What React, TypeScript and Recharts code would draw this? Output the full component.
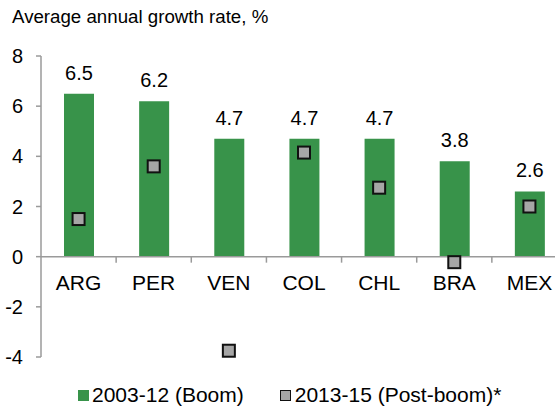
import React from "react";
import {
  ComposedChart,
  Bar,
  Line,
  XAxis,
  YAxis,
  ReferenceLine,
  LabelList,
  Legend,
} from "recharts";

const countries = ["ARG", "PER", "VEN", "COL", "CHL", "BRA", "MEX"];
const boomGrowth = [6.5, 6.2, 4.7, 4.7, 4.7, 3.8, 2.6];
const postBoomGrowth = [1.5, 3.6, -3.75, 4.15, 2.75, -0.22, 2.0];
const yTicks = [-4, -2, 0, 2, 4, 6, 8];

const BOOM_LABEL = "2003-12 (Boom)";
const POST_LABEL = "2013-15 (Post-boom)*";

const GREEN = "#38934a";
const GREY = "#a6a6a6";
const AXIS = "#9a9a9a";

const CHART_W = 567;
const CHART_H = 406;
const Y_AXIS_W = 41;
const PLOT_TOP = 56;
const PLOT_H = 301;
const Y_MIN = -4;
const Y_MAX = 8;
const ZERO_Y = PLOT_TOP + (PLOT_H * Y_MAX) / (Y_MAX - Y_MIN);
const HALF_BAND = (CHART_W - Y_AXIS_W) / countries.length / 2;

const data = countries.map((c, i) => ({
  name: c,
  boom: boomGrowth[i],
  post: postBoomGrowth[i],
}));

function CategoryTick(props: any) {
  const { x, payload } = props;
  return (
    <g>
      <line
        x1={x + HALF_BAND}
        x2={x + HALF_BAND}
        y1={ZERO_Y}
        y2={ZERO_Y + 6}
        stroke={AXIS}
        strokeWidth={1.5}
      />
      <text x={x} y={ZERO_Y + 33} textAnchor="middle" fontSize={21} fill="#000">
        {payload.value}
      </text>
    </g>
  );
}

function SquareDot(props: any) {
  const { cx, cy, index } = props;
  if (cx == null || cy == null) return null;
  return (
    <rect
      key={`sq-${index}`}
      x={cx - 6}
      y={cy - 6}
      width={12}
      height={12}
      fill={GREY}
      stroke="#111"
      strokeWidth={2}
    />
  );
}

function LegendContent() {
  return (
    <div
      style={{
        display: "flex",
        alignItems: "center",
        fontSize: 21,
        color: "#000",
        paddingLeft: 78,
        lineHeight: "24px",
      }}
    >
      <span
        style={{
          display: "inline-block",
          width: 11,
          height: 11,
          background: GREEN,
          marginRight: 3,
        }}
      />
      <span>{BOOM_LABEL}</span>
      <span
        style={{
          display: "inline-block",
          width: 9,
          height: 9,
          background: GREY,
          border: "1.5px solid #111",
          marginLeft: 36,
          marginRight: 4,
        }}
      />
      <span>{POST_LABEL}</span>
    </div>
  );
}

export default function App() {
  return (
    <div
      style={{
        position: "absolute",
        left: 0,
        top: 0,
        width: 555,
        height: 406,
        overflow: "hidden",
        background: "#fff",
        fontFamily: "'Liberation Sans', Arial, sans-serif",
      }}
    >
      <div
        style={{
          position: "absolute",
          left: 12,
          top: 6,
          fontSize: 18.7,
          color: "#000",
          whiteSpace: "nowrap",
        }}
      >
        Average annual growth rate, %
      </div>
      <ComposedChart
        width={CHART_W}
        height={CHART_H}
        data={data}
        margin={{ top: PLOT_TOP, right: 0, bottom: CHART_H - PLOT_TOP - PLOT_H - 30, left: 0 }}
      >
        <XAxis
          dataKey="name"
          height={30}
          axisLine={false}
          tickLine={false}
          tick={<CategoryTick />}
          interval={0}
        />
        <YAxis
          width={Y_AXIS_W}
          domain={[Y_MIN, Y_MAX]}
          ticks={yTicks}
          interval={0}
          axisLine={{ stroke: AXIS, strokeWidth: 1.5 }}
          tickLine={{ stroke: AXIS, strokeWidth: 1.5 }}
          tickSize={5}
          tickMargin={13}
          tick={{ fontSize: 20, fill: "#000" }}
        />
        <ReferenceLine y={0} stroke={AXIS} strokeWidth={1.5} />
        <Bar dataKey="boom" fill={GREEN} barSize={30} isAnimationActive={false}>
          <LabelList
            dataKey="boom"
            position="top"
            offset={14}
            fontSize={20}
            fill="#000"
            formatter={(v: any) => Number(v).toFixed(1)}
          />
        </Bar>
        <Line
          dataKey="post"
          stroke="none"
          dot={<SquareDot />}
          activeDot={false}
          isAnimationActive={false}
        />
        <Legend
          layout="horizontal"
          verticalAlign="middle"
          align="center"
          content={<LegendContent />}
          wrapperStyle={{ top: 383, left: 0, width: 555 }}
        />
      </ComposedChart>
    </div>
  );
}
